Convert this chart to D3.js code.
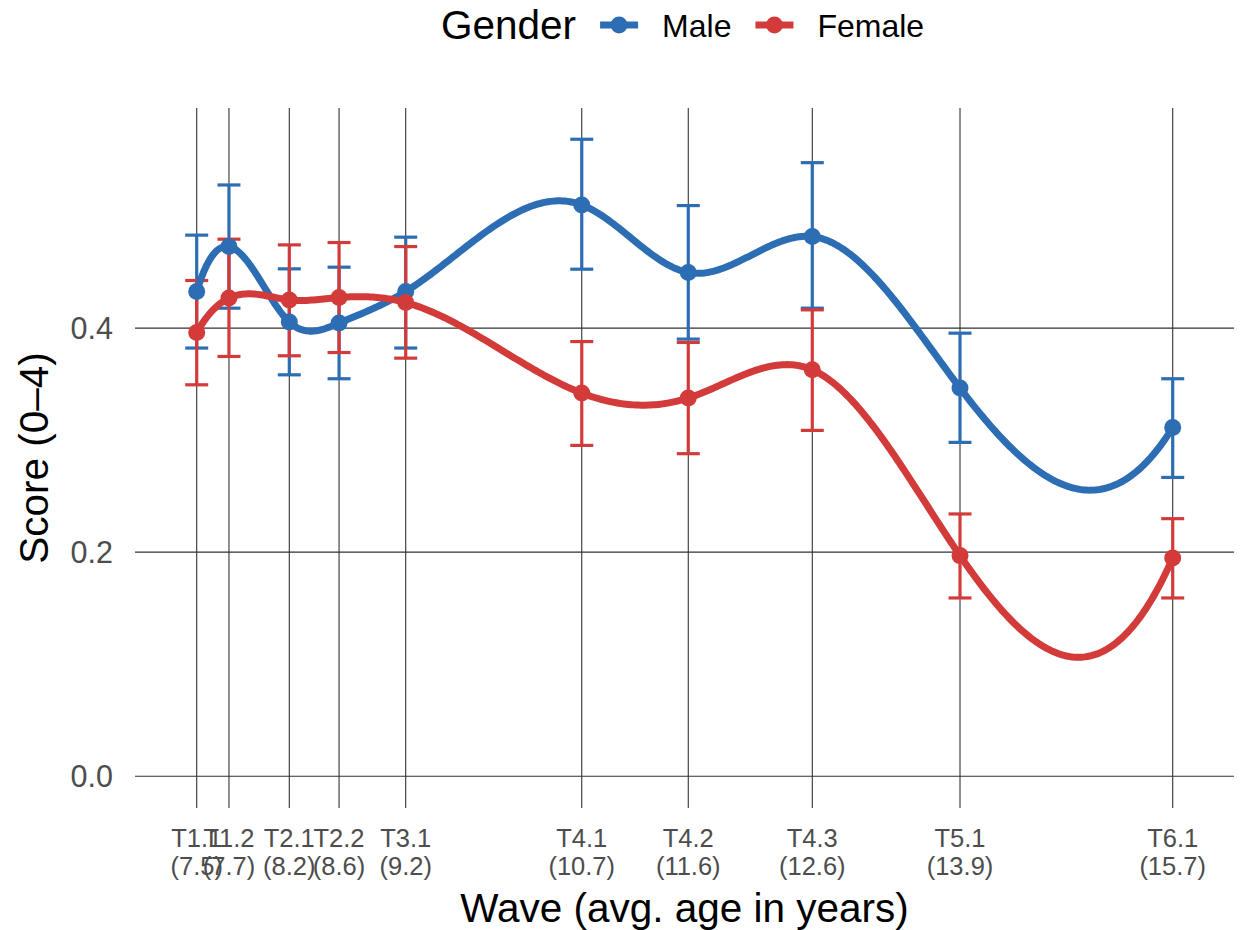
<!DOCTYPE html>
<html>
<head>
<meta charset="utf-8">
<script src="https://cdn.jsdelivr.net/npm/d3@7"></script>
<style>
  html, body { margin: 0; padding: 0; background: #fff; }
  svg { display: block; font-family: "Liberation Sans", Arial, Helvetica, sans-serif; }
</style>
</head>
<body>
<svg id="chart" width="1243" height="930"></svg>
<script>
// ---- data ----
const waves = ["T1.1", "T1.2", "T2.1", "T2.2", "T3.1", "T4.1", "T4.2", "T4.3", "T5.1", "T6.1"];
const ageLabels = ["(7.5)", "(7.7)", "(8.2)", "(8.6)", "(9.2)", "(10.7)", "(11.6)", "(12.6)", "(13.9)", "(15.7)"];
const ages = [7.5, 7.771, 8.278, 8.696, 9.256, 10.735, 11.63, 12.672, 13.913, 15.70];

const maleMean  = [0.4327, 0.4728, 0.4054, 0.4045, 0.4327, 0.5100, 0.4496, 0.4817, 0.3465, 0.3113];
const maleUpper = [0.4830, 0.5278, 0.4529, 0.4544, 0.4812, 0.5686, 0.5094, 0.5477, 0.3955, 0.3548];
const maleLower = [0.3822, 0.4178, 0.3583, 0.3548, 0.3822, 0.4526, 0.3902, 0.4178, 0.2980, 0.2667];

const femaleMean  = [0.3961, 0.4268, 0.4252, 0.4273, 0.4228, 0.3420, 0.3376, 0.3628, 0.1969, 0.1948];
const femaleUpper = [0.4425, 0.4794, 0.4743, 0.4764, 0.4728, 0.3880, 0.3872, 0.4163, 0.2341, 0.2299];
const femaleLower = [0.3494, 0.3747, 0.3753, 0.3782, 0.3732, 0.2953, 0.2879, 0.3087, 0.1591, 0.1591];

const yTicks = [0, 0.2, 0.4];
const seriesNames = ["Male", "Female"];
const seriesColors = ["#2D6DB4", "#D33B3B"];

// ---- layout ----
const svg = d3.select("#chart");
const panel = { left: 135, right: 1234, top: 108, bottom: 808 };

const x = d3.scaleLinear().domain([6.9816, 16.215]).range([panel.left, panel.right]);
const y = d3.scaleLinear().domain([-0.0284, 0.5965]).range([panel.bottom, panel.top]);

const series = [
  { name: seriesNames[0], color: seriesColors[0], mean: maleMean, lo: maleLower, hi: maleUpper },
  { name: seriesNames[1], color: seriesColors[1], mean: femaleMean, lo: femaleLower, hi: femaleUpper }
];

// FMM cubic interpolating spline (R's default spline method)
function fmmSpline(xs, ys) {
  const n = xs.length;
  const X = [0, ...xs], Y = [0, ...ys];
  const b = new Array(n + 1).fill(0), c = new Array(n + 1).fill(0), d = new Array(n + 1).fill(0);
  const nm1 = n - 1;
  d[1] = X[2] - X[1];
  c[2] = (Y[2] - Y[1]) / d[1];
  for (let i = 2; i < n; i++) {
    d[i] = X[i + 1] - X[i];
    b[i] = 2 * (d[i - 1] + d[i]);
    c[i + 1] = (Y[i + 1] - Y[i]) / d[i];
    c[i] = c[i + 1] - c[i];
  }
  b[1] = -d[1];
  b[n] = -d[nm1];
  c[1] = c[n] = 0;
  if (n > 3) {
    c[1] = c[3] / (X[4] - X[2]) - c[2] / (X[3] - X[1]);
    c[n] = c[nm1] / (X[n] - X[n - 2]) - c[n - 2] / (X[nm1] - X[n - 3]);
    c[1] = c[1] * d[1] * d[1] / (X[4] - X[1]);
    c[n] = -c[n] * d[nm1] * d[nm1] / (X[n] - X[n - 3]);
  }
  for (let i = 2; i <= n; i++) {
    const t = d[i - 1] / b[i - 1];
    b[i] = b[i] - t * d[i - 1];
    c[i] = c[i] - t * c[i - 1];
  }
  c[n] = c[n] / b[n];
  for (let i = nm1; i >= 1; i--) c[i] = (c[i] - d[i] * c[i + 1]) / b[i];
  b[n] = (Y[n] - Y[n - 1]) / d[n - 1] + d[n - 1] * (c[n - 1] + 2 * c[n]);
  for (let i = 1; i <= nm1; i++) {
    b[i] = (Y[i + 1] - Y[i]) / d[i] - d[i] * (c[i + 1] + 2 * c[i]);
    d[i] = (c[i + 1] - c[i]) / d[i];
    c[i] = 3 * c[i];
  }
  c[n] = 3 * c[n];
  d[n] = d[nm1];
  return function (u) {
    let i = 1;
    while (i < n && u > X[i + 1]) i++;
    const dx = u - X[i];
    return Y[i] + dx * (b[i] + dx * (c[i] + dx * d[i]));
  };
}

// ---- grid ----
const grid = svg.append("g");
grid.selectAll("line.h").data(yTicks).enter().append("line")
  .attr("x1", panel.left).attr("x2", panel.right)
  .attr("y1", d => y(d)).attr("y2", d => y(d))
  .attr("stroke", "#333").attr("stroke-width", 1.1);
grid.selectAll("line.v").data(ages).enter().append("line")
  .attr("x1", d => x(d)).attr("x2", d => x(d))
  .attr("y1", panel.top).attr("y2", panel.bottom)
  .attr("stroke", "#333").attr("stroke-width", 1.1);

// ---- y axis labels ----
svg.append("g").selectAll("text").data(yTicks).enter().append("text")
  .attr("x", 113).attr("y", d => y(d)).attr("dy", "0.36em")
  .attr("text-anchor", "end").attr("font-size", 30.5).attr("fill", "#4d4d4d")
  .text(d => d3.format(".1f")(d));

// ---- x axis labels ----
const xl = svg.append("g").selectAll("text").data(waves).enter().append("text")
  .attr("text-anchor", "middle").attr("font-size", 25.5).attr("fill", "#4d4d4d");
xl.append("tspan").attr("x", (d, i) => x(ages[i])).attr("y", 847).text(d => d);
xl.append("tspan").attr("x", (d, i) => x(ages[i])).attr("y", 875).text((d, i) => ageLabels[i]);

// ---- titles ----
svg.append("text").attr("x", (panel.left + panel.right) / 2).attr("y", 922)
  .attr("text-anchor", "middle").attr("font-size", 40.5).attr("fill", "#000")
  .text("Wave (avg. age in years)");
svg.append("text").attr("transform", `translate(48,${(panel.top + panel.bottom) / 2}) rotate(-90)`)
  .attr("text-anchor", "middle").attr("font-size", 40.5).attr("fill", "#000")
  .text("Score (0–4)");

// ---- error bars ----
const capW = 11.5;
series.forEach(s => {
  const g = svg.append("g").attr("stroke", s.color).attr("stroke-width", 3.2).attr("fill", "none");
  ages.forEach((a, i) => {
    const cx = x(a);
    g.append("line").attr("x1", cx).attr("x2", cx).attr("y1", y(s.lo[i])).attr("y2", y(s.hi[i]));
    g.append("line").attr("x1", cx - capW).attr("x2", cx + capW).attr("y1", y(s.lo[i])).attr("y2", y(s.lo[i]));
    g.append("line").attr("x1", cx - capW).attr("x2", cx + capW).attr("y1", y(s.hi[i])).attr("y2", y(s.hi[i]));
  });
});

// ---- smooth lines ----
series.forEach(s => {
  const f = fmmSpline(ages, s.mean);
  const samples = d3.range(0, 401).map(k => {
    const u = ages[0] + (ages[ages.length - 1] - ages[0]) * k / 400;
    return [u, f(u)];
  });
  svg.append("path").datum(samples)
    .attr("d", d3.line().x(d => x(d[0])).y(d => y(d[1])))
    .attr("fill", "none").attr("stroke", s.color).attr("stroke-width", 7)
    .attr("stroke-linecap", "butt").attr("stroke-linejoin", "round");
});

// ---- points ----
series.forEach(s => {
  svg.append("g").selectAll("circle").data(s.mean).enter().append("circle")
    .attr("cx", (d, i) => x(ages[i])).attr("cy", d => y(d)).attr("r", 8.5)
    .attr("fill", s.color);
});

// ---- legend ----
const leg = svg.append("g");
const lt = leg.append("text").attr("x", 441).attr("y", 39).attr("font-size", 40.5).attr("fill", "#000").text("Gender");
let cursor = 441 + lt.node().getComputedTextLength() + 24;
series.forEach(s => {
  leg.append("line").attr("x1", cursor).attr("x2", cursor + 38).attr("y1", 25).attr("y2", 25)
    .attr("stroke", s.color).attr("stroke-width", 7);
  leg.append("circle").attr("cx", cursor + 19).attr("cy", 25).attr("r", 8.5).attr("fill", s.color);
  const t = leg.append("text").attr("x", cursor + 62).attr("y", 37).attr("font-size", 32).attr("fill", "#000").text(s.name);
  cursor += 62 + t.node().getComputedTextLength() + 24;
});
</script>
</body>
</html>
